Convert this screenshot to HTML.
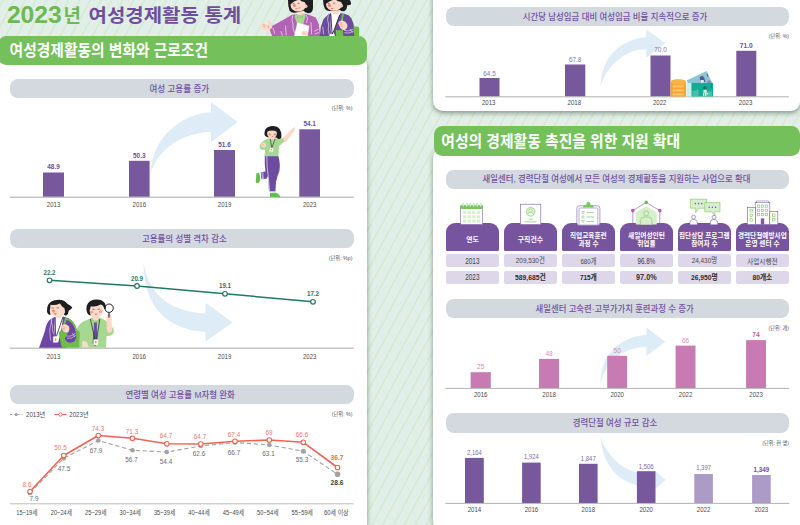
<!DOCTYPE html>
<html lang="ko"><head><meta charset="utf-8"><title>2023년 여성경제활동 통계</title>
<style>
html,body{margin:0;padding:0;background:#e2efe8}
body{font-family:"Liberation Sans","Noto Sans CJK KR",sans-serif}
#page{position:relative;width:800px;height:525px;overflow:hidden;background-color:#e2efe8;
}
#bgp{position:absolute;left:0;top:0;width:800px;height:525px}
#page div{position:absolute;box-sizing:border-box}
.card{background:#fff;box-shadow:0 2px 5px rgba(40,60,40,.5)}
.hdr{background:#74c05a;border-radius:8.5px}
.pill{background:#d3d9df;border-radius:8px}
.th{background:#76549e;border-radius:9px 9px 1.5px 1.5px}
.td{background:#ded7e9;border-radius:2px}
#art{position:absolute;left:0;top:0;width:800px;height:525px;font-family:"Liberation Sans","Noto Sans CJK KR",sans-serif}
#txt span{position:absolute;color:transparent;white-space:nowrap;line-height:1;overflow:hidden;
 font-family:"Liberation Sans","Noto Sans CJK KR",sans-serif}
</style></head><body>
<div id="page">
<svg id="bgp" width="800" height="525"><defs><pattern id="st" patternUnits="userSpaceOnUse" width="9.553" height="20" patternTransform="rotate(28.3)"><line x1="3.04" y1="-1" x2="3.04" y2="21" stroke="#c6e5ba" stroke-width=".75"/></pattern></defs><rect width="800" height="525" fill="url(#st)"/></svg>
<div class="card" style="left:-8.0px;top:55.0px;width:375.3px;height:485.0px;border-radius:0 10px 0 0"></div>
<div class="card" style="left:432.5px;top:-12.0px;width:367.9px;height:123.2px;border-radius:0 0 9px 10px"></div>
<div class="card" style="left:432.8px;top:148.0px;width:373.2px;height:383.0px;border-radius:10px"></div>
<div class="hdr" style="left:-2.0px;top:36.1px;width:368.9px;height:28.8px;"></div>
<div class="hdr" style="left:433.6px;top:126.4px;width:366.6px;height:29.2px;"></div>
<div class="pill" style="left:9.9px;top:78.8px;width:344.1px;height:19.2px;"></div>
<div class="pill" style="left:9.9px;top:229.2px;width:344.1px;height:19.2px;"></div>
<div class="pill" style="left:9.9px;top:384.7px;width:344.1px;height:19.3px;"></div>
<div class="pill" style="left:445.5px;top:7.0px;width:343.5px;height:19.0px;"></div>
<div class="pill" style="left:445.5px;top:169.5px;width:343.5px;height:19.0px;"></div>
<div class="th" style="left:445.5px;top:223.3px;width:53.7px;height:28.0px;"></div>
<div class="td" style="left:445.5px;top:254.1px;width:53.7px;height:13.3px;"></div>
<div class="td" style="left:445.5px;top:271.0px;width:53.7px;height:12.6px;"></div>
<div class="th" style="left:503.5px;top:223.3px;width:53.7px;height:28.0px;"></div>
<div class="td" style="left:503.5px;top:254.1px;width:53.7px;height:13.3px;"></div>
<div class="td" style="left:503.5px;top:271.0px;width:53.7px;height:12.6px;"></div>
<div class="th" style="left:561.5px;top:223.3px;width:53.7px;height:28.0px;"></div>
<div class="td" style="left:561.5px;top:254.1px;width:53.7px;height:13.3px;"></div>
<div class="td" style="left:561.5px;top:271.0px;width:53.7px;height:12.6px;"></div>
<div class="th" style="left:619.5px;top:223.3px;width:53.7px;height:28.0px;"></div>
<div class="td" style="left:619.5px;top:254.1px;width:53.7px;height:13.3px;"></div>
<div class="td" style="left:619.5px;top:271.0px;width:53.7px;height:12.6px;"></div>
<div class="th" style="left:677.5px;top:223.3px;width:53.7px;height:28.0px;"></div>
<div class="td" style="left:677.5px;top:254.1px;width:53.7px;height:13.3px;"></div>
<div class="td" style="left:677.5px;top:271.0px;width:53.7px;height:12.6px;"></div>
<div class="th" style="left:735.5px;top:223.3px;width:53.7px;height:28.0px;"></div>
<div class="td" style="left:735.5px;top:254.1px;width:53.7px;height:13.3px;"></div>
<div class="td" style="left:735.5px;top:271.0px;width:53.7px;height:12.6px;"></div>
<div class="pill" style="left:445.5px;top:299.0px;width:343.5px;height:19.0px;"></div>
<div class="pill" style="left:445.5px;top:413.1px;width:343.5px;height:19.5px;"></div>
<svg id="art" viewBox="0 0 800 525" width="800" height="525">
<g id="top-women"><clipPath id="cw"><rect x="255" y="0" width="110" height="36.1"/></clipPath><g clip-path="url(#cw)"><path fill="#b263b4" d="M292.6 14.6 L306.8 14 L315.8 17.4 L318.8 24 L320.2 36.5 L272.4 36.5 L270.6 32.5 L269.4 27.4 L282 20.5Z"/><path fill="#fcd9c8" d="M271.4 28.6 L267 31.2 L262.6 29.6 L260.6 25.4 L261.6 22.8 L263.6 23.2 L264.6 24.6 L268 24.4 L268.6 20 L270 20 L271 22.4 L271.2 25 L272.4 27Z"/><path stroke="#f2705c" stroke-width=".5" fill="none" d="M263 24.2l2.4 1.2M263 26.4l2.2.8M268.2 25.4l.6 3"/><rect x="297.4" y="9.5" width="5.6" height="6" fill="#fcd9c8"/><path fill="#a7d892" d="M295 14 L299.8 15.6 L304.6 13.2 L305.6 15.5 L303.4 24 L297 23.4 L294.8 17.5Z"/><path fill="#8fca78" d="M296.4 15.6 L299.8 17.2 L303.4 15.2 L302.6 18 L299.8 17.6 L297.4 18.6Z"/><path fill="#1e1e20" d="M288 -1 L313 -1 L313 8 Q312.6 13 308.8 13.3 Q305 13.2 303.6 10.8 L296 12.6 Q291.8 13.6 289.6 10.8 Q287.8 6.4 288 -1Z"/><ellipse cx="298.2" cy="4.9" rx="7.7" ry="6.7" fill="#fcd9c8"/><circle cx="305.7" cy="6.3" r="1.8" fill="#fcd9c8"/><path fill="#1e1e20" d="M290 -1 L307 -1 L306.6 3.6 Q304.4 1.4 301.4 1.2 L299.6 -.4 Q294.6 .4 290.6 4.2Z"/><circle cx="294.4" cy="5.4" r="1.5" fill="#f2705c" opacity=".85"/><circle cx="299.6" cy="7.8" r=".9" fill="#f2705c" opacity=".6"/><path d="M295 8.4q1.4 1.6 3 .2z" fill="#ec4b37"/><path d="M292.6 3.8l1.8-.4M297.6 3.4l2-.2" stroke="#1e1e20" stroke-width=".5"/><path d="M305 6.2h1.6" stroke="#f2705c" stroke-width=".5"/><path fill="#fff" stroke="#e6e6ee" stroke-width=".3" d="M297.4 22.5 L309.2 25.9 L307.4 37 L294 37Z"/><ellipse cx="304.6" cy="33.2" rx="3.3" ry="2.4" fill="#fcd9c8"/><path stroke="#f2705c" stroke-width=".4" fill="none" d="M303.4 33.4l2.2.8"/><path stroke="#fff" stroke-width=".6" fill="none" stroke-linecap="round" d="M292.6 16 Q291 20 293 24 Q292.4 29 294.6 33M306.6 15 Q308.6 19 306.6 22.6M311 22.6 L311.6 34M273.2 28.4l1.4 5M281 31.5l1.4 4M285.6 26l.6 9M314.6 31l3.4-1.6M315 34l3.6-1.4"/><path stroke="#6dbd4a" stroke-width="1.9" fill="none" d="M342.8 14.4 Q350.6 14.6 353.8 27.4"/><path fill="#6dbd4a" d="M335.8 36.5 L336.2 30.4 Q338 27.6 341 28 L343.6 30 L352 29 L353 26.6 L358.4 26.8 Q359.3 27.4 359.2 29 L359.2 36.5Z"/><path fill="#6c4ba1" d="M328.2 14.4 L332 13 L340.4 13 L343.4 13.8 L341.6 20 L343.6 30 L336 30.2 L336 36.5 L319.8 36.5 L320.8 27 L323.6 19Z"/><path fill="#fff" d="M331 12.8 L340.2 12.8 L333.6 32 L334.4 36.5 L331 36.5 L330.6 24Z"/><path stroke="#23202e" stroke-width=".85" fill="none" d="M330.8 13.4 L332 33.2M340.3 13.4 L333.2 32.6"/><rect x="331.6" y="32.6" width="1.4" height="1.6" fill="#23202e"/><rect x="329.9" y="34.1" width="4.6" height="2.4" fill="#fff" stroke="#cfcfd8" stroke-width=".3"/><path fill="#6c4ba1" d="M343.4 13.8 L349 15.6 Q352 18.6 353 23 L354.4 36.5 L343.4 36.5 L342.4 22Z"/><path stroke="#6dbd4a" stroke-width="1.7" fill="none" d="M343 14.2 L341.7 21"/><rect x="332.4" y="9.2" width="6.4" height="5.2" fill="#fcd9c8"/><path fill="#fff" d="M331.4 13 L335.6 15.4 L340.4 12.8 L340.2 14.6 L335.6 16.6 L331.6 14.8Z"/><path fill="#1e1e20" d="M323.2 -1 L349 -1 Q351.6 2 350.8 4.6 Q348.6 5.6 347.2 5 Q347.4 9 344.6 11 Q341.4 12 340 10 L330.6 11 Q327 11.6 325 9 Q322.8 5 323.2 -1Z"/><ellipse cx="334" cy="4.3" rx="8" ry="6.5" fill="#fcd9c8"/><circle cx="341.4" cy="5.7" r="1.7" fill="#fcd9c8"/><path fill="#1e1e20" d="M325.6 -1 L343 -1 L343 3.4 Q340.6 1.2 337.4 1 L335.6 -.6 Q330.6 0 326.2 3.8Z"/><circle cx="329.4" cy="5.6" r="1.5" fill="#f2705c" opacity=".85"/><path d="M330.4 7.9q1.6 1.8 3.4.1z" fill="#ec4b37"/><path d="M328 3.6l1.8-.3M333 3.2l2.2-.1" stroke="#1e1e20" stroke-width=".5"/><path d="M340.6 5.6h1.6" stroke="#f2705c" stroke-width=".5"/><path fill="#fcd9c8" d="M338.2 23.4 Q339 20.2 342.6 20.4 Q346.4 21.4 347.4 25 Q347.6 28.8 344.6 30 Q341.2 30 340 27.2Z"/><path stroke="#f2705c" stroke-width=".45" fill="none" d="M340 22.6l2.2.8M339.8 24.6l2.4.5M340.4 26.4l2 .2"/><path stroke="#fff" stroke-width=".55" fill="none" stroke-linecap="round" d="M328.2 15.6 Q326.6 20 328.6 24 Q327.6 30 329.4 36M344.6 30.6q4 1.4 8.2-1.2M344.8 32.8q4 1.4 8.6-1.4M350 29l2.4 3.2M322.8 27l.8 7"/></g></g>
<text x="6.9" y="22.8" font-size="23.5" font-weight="700" fill="#6cb955" textLength="54.9" lengthAdjust="spacingAndGlyphs">2023</text>
<text x="63.6" y="21.8" font-size="18" font-weight="700" fill="#6cb955" textLength="17.4" lengthAdjust="spacingAndGlyphs">년</text>
<text x="88.6" y="21.8" font-size="18.4" font-weight="700" fill="#6f4e9c" textLength="152.6" lengthAdjust="spacingAndGlyphs">여성경제활동 통계</text>
<text x="9.6" y="56.3" font-size="16.4" font-weight="700" fill="#fff" textLength="198.4" lengthAdjust="spacingAndGlyphs">여성경제활동의 변화와 근로조건</text>
<text x="441.3" y="147.2" font-size="16.4" font-weight="700" fill="#fff" textLength="238.8" lengthAdjust="spacingAndGlyphs">여성의 경제활동 촉진을 위한 지원 확대</text>
<text x="149.4" y="91.9" font-size="9.2" font-weight="500" fill="#74509f" textLength="59.8" lengthAdjust="spacingAndGlyphs">여성 고용률 증가</text>
<text x="331.8" y="110" font-size="5.6" fill="#555" textLength="20.6" lengthAdjust="spacingAndGlyphs">(단위: %)</text>
<path fill="#deecf7" d="M150.2 175.6 C151 158 158 141 170 130 C182 119 196 113 211 112.2 L211 102.2 L237.7 122.1 L211 142.2 L211 131.9 C197 132.5 184 136 173 143.5 C161 152 153 163 150.2 175.6Z"/>
<rect x="43.00" y="172.50" width="21.00" height="24.30" fill="#77589d"/>
<text transform="translate(53.50 168.79) scale(0.827 1)" font-size="7.79" fill="#6f4e9c" text-anchor="middle" font-weight="700">48.9</text>
<text transform="translate(53.50 207.42) scale(0.830 1)" font-size="7.32" fill="#4a4a4a" text-anchor="middle">2013</text>
<rect x="129.00" y="160.80" width="20.60" height="36.00" fill="#77589d"/>
<text transform="translate(139.30 157.79) scale(0.827 1)" font-size="7.79" fill="#6f4e9c" text-anchor="middle" font-weight="700">50.3</text>
<text transform="translate(139.30 207.42) scale(0.830 1)" font-size="7.32" fill="#4a4a4a" text-anchor="middle">2016</text>
<rect x="214.00" y="150.00" width="21.00" height="46.80" fill="#77589d"/>
<text transform="translate(224.50 146.79) scale(0.827 1)" font-size="7.79" fill="#6f4e9c" text-anchor="middle" font-weight="700">51.6</text>
<text transform="translate(224.50 207.42) scale(0.830 1)" font-size="7.32" fill="#4a4a4a" text-anchor="middle">2019</text>
<rect x="299.30" y="129.30" width="20.70" height="67.50" fill="#77589d"/>
<text transform="translate(309.65 125.79) scale(0.827 1)" font-size="7.79" fill="#6f4e9c" text-anchor="middle" font-weight="700">54.1</text>
<text transform="translate(309.65 207.42) scale(0.830 1)" font-size="7.32" fill="#4a4a4a" text-anchor="middle">2023</text>
<line x1="10.00" y1="197.20" x2="353.80" y2="197.20" stroke="#a8a8a8" stroke-width="1.00"/>
<text x="142" y="242.3" font-size="9.2" font-weight="500" fill="#74509f" textLength="84.8" lengthAdjust="spacingAndGlyphs">고용률의 성별 격차 감소</text>
<text x="328.8" y="259.7" font-size="5.6" fill="#555" textLength="23.6" lengthAdjust="spacingAndGlyphs">(단위: %p)</text>
<path fill="#deecf7" d="M143.4 261.9 C144 282 148 298 157.4 309.9 C168 323 185 331 205.5 331.7 L205.5 341.6 L232.6 322.4 L205.5 302.7 L205.5 313.3 C191 313 176 309 165 301 C153 292 146 278 143.4 261.9Z"/>
<polyline fill="none" stroke="#1d7a66" stroke-width="1.5" points="49.5,280.3 137.0,286.0 225.0,293.8 313.0,301.8"/>
<circle cx="49.5" cy="280.3" r="2.3" fill="#fff" stroke="#1d7a66" stroke-width="1.2"/>
<text transform="translate(49.50 274.70) scale(0.827 1)" font-size="7.55" fill="#1d7a66" text-anchor="middle" font-weight="700">22.2</text>
<circle cx="137.0" cy="286.0" r="2.3" fill="#fff" stroke="#1d7a66" stroke-width="1.2"/>
<text transform="translate(137.00 280.50) scale(0.827 1)" font-size="7.55" fill="#1d7a66" text-anchor="middle" font-weight="700">20.9</text>
<circle cx="225.0" cy="293.8" r="2.3" fill="#fff" stroke="#1d7a66" stroke-width="1.2"/>
<text transform="translate(225.00 288.20) scale(0.827 1)" font-size="7.55" fill="#1d7a66" text-anchor="middle" font-weight="700">19.1</text>
<circle cx="313.0" cy="301.8" r="2.3" fill="#fff" stroke="#1d7a66" stroke-width="1.2"/>
<text transform="translate(313.00 296.00) scale(0.827 1)" font-size="7.55" fill="#1d7a66" text-anchor="middle" font-weight="700">17.2</text>
<text transform="translate(53.50 358.92) scale(0.830 1)" font-size="7.32" fill="#4a4a4a" text-anchor="middle">2013</text>
<text transform="translate(139.20 358.92) scale(0.830 1)" font-size="7.32" fill="#4a4a4a" text-anchor="middle">2016</text>
<text transform="translate(224.50 358.92) scale(0.830 1)" font-size="7.32" fill="#4a4a4a" text-anchor="middle">2019</text>
<text transform="translate(309.70 358.92) scale(0.830 1)" font-size="7.32" fill="#4a4a4a" text-anchor="middle">2023</text>
<line x1="10.00" y1="348.20" x2="353.80" y2="348.20" stroke="#a8a8a8" stroke-width="1.00"/>
<text x="125.4" y="397.9" font-size="9.2" font-weight="500" fill="#74509f" textLength="109.4" lengthAdjust="spacingAndGlyphs">연령별 여성 고용률 M자형 완화</text>
<text x="331.8" y="415.8" font-size="5.6" fill="#555" textLength="20.6" lengthAdjust="spacingAndGlyphs">(단위: %)</text>
<line x1="10.00" y1="414.50" x2="22.50" y2="414.50" stroke="#a2a2a2" stroke-width="0.90" stroke-dasharray="2.2 1.6"/>
<circle cx="16.2" cy="414.5" r="1.5" fill="#a2a2a2"/>
<text x="26" y="417.1" font-size="6.8" fill="#4a4a4a" textLength="19.2" lengthAdjust="spacingAndGlyphs">2013년</text>
<line x1="54.50" y1="414.50" x2="66.50" y2="414.50" stroke="#ee6453" stroke-width="1.00"/>
<circle cx="60.5" cy="414.5" r="1.7" fill="#fff" stroke="#ee6453" stroke-width="0.9"/>
<text x="69.3" y="417.1" font-size="6.8" fill="#4a4a4a" textLength="19.2" lengthAdjust="spacingAndGlyphs">2023년</text>
<polyline fill="none" stroke="#a2a2a2" stroke-width="1.1" stroke-dasharray="4.2 2.8" points="30.0,493.0 63.8,458.3 98.3,440.5 132.5,450.3 166.8,452.0 200.8,446.0 235.0,442.5 269.3,445.0 303.3,451.3 337.5,474.3"/>
<circle cx="30.0" cy="493.0" r="2.3" fill="#a2a2a2"/>
<circle cx="63.8" cy="458.3" r="2.3" fill="#a2a2a2"/>
<circle cx="98.3" cy="440.5" r="2.3" fill="#a2a2a2"/>
<circle cx="132.5" cy="450.3" r="2.3" fill="#a2a2a2"/>
<circle cx="166.8" cy="452.0" r="2.3" fill="#a2a2a2"/>
<circle cx="200.8" cy="446.0" r="2.3" fill="#a2a2a2"/>
<circle cx="235.0" cy="442.5" r="2.3" fill="#a2a2a2"/>
<circle cx="269.3" cy="445.0" r="2.3" fill="#a2a2a2"/>
<circle cx="303.3" cy="451.3" r="2.5" fill="#a2a2a2"/>
<circle cx="337.5" cy="474.3" r="2.8" fill="#a2a2a2"/>
<polyline fill="none" stroke="#ee6453" stroke-width="1.6" stroke-linejoin="round" points="30.0,491.5 63.8,455.5 98.3,435.5 132.5,438.3 166.8,443.8 200.8,444.0 235.0,441.3 269.3,440.0 303.3,442.3 337.5,467.5"/>
<circle cx="30.0" cy="491.5" r="2.3" fill="#fff" stroke="#ee6453" stroke-width="1.1"/>
<circle cx="63.8" cy="455.5" r="2.3" fill="#fff" stroke="#ee6453" stroke-width="1.1"/>
<circle cx="98.3" cy="435.5" r="2.3" fill="#fff" stroke="#ee6453" stroke-width="1.1"/>
<circle cx="132.5" cy="438.3" r="2.3" fill="#fff" stroke="#ee6453" stroke-width="1.1"/>
<circle cx="166.8" cy="443.8" r="2.3" fill="#fff" stroke="#ee6453" stroke-width="1.1"/>
<circle cx="200.8" cy="444.0" r="2.3" fill="#fff" stroke="#ee6453" stroke-width="1.1"/>
<circle cx="235.0" cy="441.3" r="2.3" fill="#fff" stroke="#ee6453" stroke-width="1.1"/>
<circle cx="269.3" cy="440.0" r="2.3" fill="#fff" stroke="#ee6453" stroke-width="1.1"/>
<circle cx="303.3" cy="442.3" r="2.3" fill="#fff" stroke="#ee6453" stroke-width="1.1"/>
<circle cx="337.5" cy="467.5" r="2.3" fill="#fff" stroke="#ee6453" stroke-width="1.1"/>
<text transform="translate(27.00 487.25) scale(0.830 1)" font-size="7.67" fill="#f0796b" text-anchor="middle">8.6</text>
<text transform="translate(60.50 450.25) scale(0.830 1)" font-size="7.67" fill="#f0796b" text-anchor="middle">50.5</text>
<text transform="translate(98.00 430.75) scale(0.830 1)" font-size="7.67" fill="#f0796b" text-anchor="middle">74.3</text>
<text transform="translate(132.00 433.75) scale(0.830 1)" font-size="7.67" fill="#f0796b" text-anchor="middle">71.3</text>
<text transform="translate(166.00 438.25) scale(0.830 1)" font-size="7.67" fill="#f0796b" text-anchor="middle">64.7</text>
<text transform="translate(200.00 439.05) scale(0.830 1)" font-size="7.67" fill="#f0796b" text-anchor="middle">64.7</text>
<text transform="translate(234.00 437.05) scale(0.830 1)" font-size="7.67" fill="#f0796b" text-anchor="middle">67.4</text>
<text transform="translate(269.00 435.25) scale(0.830 1)" font-size="7.67" fill="#f0796b" text-anchor="middle">69</text>
<text transform="translate(302.00 437.05) scale(0.830 1)" font-size="7.67" fill="#f0796b" text-anchor="middle">66.6</text>
<text transform="translate(337.00 459.87) scale(0.827 1)" font-size="8.02" fill="#ee6453" text-anchor="middle" font-weight="700">36.7</text>
<text transform="translate(34.00 500.75) scale(0.830 1)" font-size="7.67" fill="#6a6a6a" text-anchor="middle">7.9</text>
<text transform="translate(64.00 470.75) scale(0.830 1)" font-size="7.67" fill="#6a6a6a" text-anchor="middle">47.5</text>
<text transform="translate(96.00 452.75) scale(0.830 1)" font-size="7.67" fill="#6a6a6a" text-anchor="middle">67.9</text>
<text transform="translate(131.50 462.25) scale(0.830 1)" font-size="7.67" fill="#6a6a6a" text-anchor="middle">56.7</text>
<text transform="translate(166.00 463.55) scale(0.830 1)" font-size="7.67" fill="#6a6a6a" text-anchor="middle">54.4</text>
<text transform="translate(199.00 456.05) scale(0.830 1)" font-size="7.67" fill="#6a6a6a" text-anchor="middle">62.6</text>
<text transform="translate(234.00 454.55) scale(0.830 1)" font-size="7.67" fill="#6a6a6a" text-anchor="middle">66.7</text>
<text transform="translate(268.50 455.55) scale(0.830 1)" font-size="7.67" fill="#6a6a6a" text-anchor="middle">63.1</text>
<text transform="translate(302.00 462.25) scale(0.830 1)" font-size="7.67" fill="#6a6a6a" text-anchor="middle">55.3</text>
<text transform="translate(337.00 485.37) scale(0.827 1)" font-size="8.02" fill="#3c3c3c" text-anchor="middle" font-weight="700">28.6</text>
<line x1="10.00" y1="503.80" x2="353.60" y2="503.80" stroke="#a8a8a8" stroke-width="0.80"/>
<text x="16.2" y="515.3" font-size="6.6" fill="#4a4a4a" textLength="21.4" lengthAdjust="spacingAndGlyphs">15~19세</text>
<text x="50.7" y="515.3" font-size="6.6" fill="#4a4a4a" textLength="21.4" lengthAdjust="spacingAndGlyphs">20~24세</text>
<text x="85.1" y="515.3" font-size="6.6" fill="#4a4a4a" textLength="21.4" lengthAdjust="spacingAndGlyphs">25~29세</text>
<text x="119.5" y="515.3" font-size="6.6" fill="#4a4a4a" textLength="21.4" lengthAdjust="spacingAndGlyphs">30~34세</text>
<text x="153.9" y="515.3" font-size="6.6" fill="#4a4a4a" textLength="21.4" lengthAdjust="spacingAndGlyphs">35~39세</text>
<text x="188.3" y="515.3" font-size="6.6" fill="#4a4a4a" textLength="21.4" lengthAdjust="spacingAndGlyphs">40~44세</text>
<text x="222.7" y="515.3" font-size="6.6" fill="#4a4a4a" textLength="21.4" lengthAdjust="spacingAndGlyphs">45~49세</text>
<text x="257.1" y="515.3" font-size="6.6" fill="#4a4a4a" textLength="21.4" lengthAdjust="spacingAndGlyphs">50~54세</text>
<text x="291.5" y="515.3" font-size="6.6" fill="#4a4a4a" textLength="21.4" lengthAdjust="spacingAndGlyphs">55~59세</text>
<text x="323.9" y="515.3" font-size="6.6" fill="#4a4a4a" textLength="24.7" lengthAdjust="spacingAndGlyphs">60세 이상</text>
<text x="522.7" y="19.95" font-size="9.2" font-weight="500" fill="#74509f" textLength="184.6" lengthAdjust="spacingAndGlyphs">시간당 남성임금 대비 여성임금 비율 지속적으로 증가</text>
<text x="768.8" y="37.96" font-size="5.6" fill="#555" textLength="20.1" lengthAdjust="spacingAndGlyphs">(단위: %)</text>
<path fill="#deecf7" d="M600.5 86.9 C600.8 72 606 57 618 48 C627 41 637 37.6 646.3 37.2 L646.3 29.4 L665.2 43.2 L646.3 58 L646.3 49.2 C637 49.4 628 52 620.5 58 C610 66 603 76 600.5 86.9Z"/>
<rect x="479.50" y="78.00" width="20.00" height="18.40" fill="#77589d"/>
<text transform="translate(489.50 75.55) scale(0.830 1)" font-size="7.67" fill="#8a70b3" text-anchor="middle">64.5</text>
<text transform="translate(488.70 105.42) scale(0.830 1)" font-size="7.32" fill="#4a4a4a" text-anchor="middle">2013</text>
<rect x="565.00" y="64.50" width="20.30" height="31.90" fill="#77589d"/>
<text transform="translate(575.15 62.05) scale(0.830 1)" font-size="7.67" fill="#8a70b3" text-anchor="middle">67.8</text>
<text transform="translate(574.35 105.42) scale(0.830 1)" font-size="7.32" fill="#4a4a4a" text-anchor="middle">2018</text>
<rect x="650.50" y="55.50" width="20.00" height="40.90" fill="#77589d"/>
<text transform="translate(660.50 52.05) scale(0.830 1)" font-size="7.67" fill="#8a70b3" text-anchor="middle">70.0</text>
<text transform="translate(659.70 105.42) scale(0.830 1)" font-size="7.32" fill="#4a4a4a" text-anchor="middle">2022</text>
<rect x="736.30" y="50.80" width="20.00" height="45.60" fill="#77589d"/>
<text transform="translate(746.30 48.37) scale(0.827 1)" font-size="8.02" fill="#6f4e9c" text-anchor="middle" font-weight="700">71.0</text>
<text transform="translate(745.50 105.42) scale(0.830 1)" font-size="7.32" fill="#4a4a4a" text-anchor="middle">2023</text>
<line x1="445.50" y1="96.80" x2="789.00" y2="96.80" stroke="#a8a8a8" stroke-width="0.90"/>
<text x="482.5" y="182.13" font-size="9.2" font-weight="500" fill="#74509f" textLength="268" lengthAdjust="spacingAndGlyphs">새일센터, 경력단절 여성에서 모든 여성의 경제활동을 지원하는 사업으로 확대</text>
<text x="466.2" y="242.05" font-size="7.2" font-weight="700" fill="#fff" textLength="12.4" lengthAdjust="spacingAndGlyphs">연도</text>
<text transform="translate(472.35 263.88) scale(0.747 1)" font-size="8.61" fill="#444" text-anchor="middle">2013</text>
<text transform="translate(472.35 280.48) scale(0.747 1)" font-size="8.61" fill="#444" text-anchor="middle">2023</text>
<text x="517.8" y="241.95" font-size="7.2" font-weight="700" fill="#fff" textLength="25.3" lengthAdjust="spacingAndGlyphs">구직건수</text>
<text x="515.8" y="263.23" font-size="8" fill="#444" textLength="29" lengthAdjust="spacingAndGlyphs">209,530건</text>
<text x="515" y="280" font-size="8" font-weight="700" fill="#2c2c2c" textLength="30.7" lengthAdjust="spacingAndGlyphs">589,685건</text>
<text x="570" y="237.77" font-size="7.2" font-weight="700" fill="#fff" textLength="36.7" lengthAdjust="spacingAndGlyphs">직업교육훈련</text>
<text x="578.4" y="246.16" font-size="7.2" font-weight="700" fill="#fff" textLength="20.1" lengthAdjust="spacingAndGlyphs">과정 수</text>
<text x="580.4" y="263.53" font-size="8" fill="#444" textLength="16" lengthAdjust="spacingAndGlyphs">680개</text>
<text x="579.9" y="280.27" font-size="8" font-weight="700" fill="#2c2c2c" textLength="16.8" lengthAdjust="spacingAndGlyphs">715개</text>
<text x="628" y="237.76" font-size="7.2" font-weight="700" fill="#fff" textLength="36.9" lengthAdjust="spacingAndGlyphs">새일여성인턴</text>
<text x="637.2" y="246.16" font-size="7.2" font-weight="700" fill="#fff" textLength="18.3" lengthAdjust="spacingAndGlyphs">취업률</text>
<text transform="translate(646.35 263.80) scale(0.747 1)" font-size="8.38" fill="#333" text-anchor="middle">96.8%</text>
<text transform="translate(646.35 280.40) scale(0.870 1)" font-size="8.38" fill="#333" text-anchor="middle" font-weight="700">97.0%</text>
<text x="679" y="237.76" font-size="7.2" font-weight="700" fill="#fff" textLength="50.7" lengthAdjust="spacingAndGlyphs">집단상담 프로그램</text>
<text x="691.2" y="246.16" font-size="7.2" font-weight="700" fill="#fff" textLength="26.4" lengthAdjust="spacingAndGlyphs">참여자 수</text>
<text x="691.7" y="263.23" font-size="8" fill="#444" textLength="25.4" lengthAdjust="spacingAndGlyphs">24,430명</text>
<text x="690.9" y="280" font-size="8" font-weight="700" fill="#2c2c2c" textLength="26.9" lengthAdjust="spacingAndGlyphs">26,950명</text>
<text x="737.9" y="237.74" font-size="7.2" font-weight="700" fill="#fff" textLength="48.9" lengthAdjust="spacingAndGlyphs">경력단절예방사업</text>
<text x="745.3" y="246.16" font-size="7.2" font-weight="700" fill="#fff" textLength="34.2" lengthAdjust="spacingAndGlyphs">운영 센터 수</text>
<text x="747.3" y="263.52" font-size="7.3" fill="#444" textLength="30.2" lengthAdjust="spacingAndGlyphs">사업시행전</text>
<text x="752.4" y="280.27" font-size="7.8" font-weight="700" fill="#2c2c2c" textLength="19.9" lengthAdjust="spacingAndGlyphs">80개소</text>
<text x="535.6" y="311.95" font-size="9.2" font-weight="500" fill="#74509f" textLength="158" lengthAdjust="spacingAndGlyphs">새일센터 고숙련·고부가가치 훈련과정 수 증가</text>
<text x="768.5" y="329.96" font-size="5.6" fill="#555" textLength="20.4" lengthAdjust="spacingAndGlyphs">(단위: 개)</text>
<path fill="#deecf7" d="M600.5 383.8 C600.6 371 604 357 615 347.5 C624 339.5 635 335.5 646.3 334.9 L646.3 327.2 L665.2 341.7 L646.3 356.3 L646.3 346.9 C637 347 627 349.5 619 355.5 C609 363 603 373 600.5 383.8Z"/>
<rect x="470.60" y="372.20" width="20.20" height="15.80" fill="#c87bb3"/>
<text transform="translate(480.70 369.49) scale(0.830 1)" font-size="7.79" fill="#d38bc0" text-anchor="middle">25</text>
<text transform="translate(480.70 397.22) scale(0.830 1)" font-size="7.32" fill="#4a4a4a" text-anchor="middle">2016</text>
<rect x="539.00" y="358.90" width="20.00" height="29.10" fill="#c87bb3"/>
<text transform="translate(549.00 356.19) scale(0.830 1)" font-size="7.79" fill="#d38bc0" text-anchor="middle">48</text>
<text transform="translate(549.00 397.22) scale(0.830 1)" font-size="7.32" fill="#4a4a4a" text-anchor="middle">2018</text>
<rect x="607.20" y="355.80" width="19.90" height="32.20" fill="#c87bb3"/>
<text transform="translate(617.15 352.69) scale(0.830 1)" font-size="7.79" fill="#d38bc0" text-anchor="middle">50</text>
<text transform="translate(617.15 397.22) scale(0.830 1)" font-size="7.32" fill="#4a4a4a" text-anchor="middle">2020</text>
<rect x="675.60" y="345.60" width="19.90" height="42.40" fill="#c87bb3"/>
<text transform="translate(685.55 342.69) scale(0.830 1)" font-size="7.79" fill="#d38bc0" text-anchor="middle">66</text>
<text transform="translate(685.55 397.22) scale(0.830 1)" font-size="7.32" fill="#4a4a4a" text-anchor="middle">2022</text>
<rect x="746.10" y="340.10" width="19.90" height="47.90" fill="#c87bb3"/>
<text transform="translate(756.05 337.07) scale(0.827 1)" font-size="8.02" fill="#b65aa0" text-anchor="middle" font-weight="700">74</text>
<text transform="translate(756.05 397.22) scale(0.830 1)" font-size="7.32" fill="#4a4a4a" text-anchor="middle">2023</text>
<line x1="445.50" y1="388.40" x2="789.30" y2="388.40" stroke="#a8a8a8" stroke-width="0.90"/>
<text x="572.7" y="426.29" font-size="9.2" font-weight="500" fill="#74509f" textLength="84.5" lengthAdjust="spacingAndGlyphs">경력단절 여성 규모 감소</text>
<text x="762.2" y="444.86" font-size="5.6" fill="#555" textLength="26.7" lengthAdjust="spacingAndGlyphs">(단위: 천 명)</text>
<path fill="#deecf7" d="M600.5 436.3 C601.5 452 607 466 617 475 C626 483 637 486.5 648 486.3 L655.3 486.3 L655.3 489 L665.6 480 L655.3 470.8 L655.3 473.6 L648 473.6 C636 473.6 624 469 615 460 C608 453 603 445 600.5 436.3Z"/>
<rect x="465.00" y="457.90" width="18.80" height="45.10" fill="#77589d"/>
<text transform="translate(474.40 454.60) scale(0.788 1)" font-size="7.55" fill="#8468ad" text-anchor="middle">2,164</text>
<text transform="translate(474.40 512.22) scale(0.830 1)" font-size="7.32" fill="#4a4a4a" text-anchor="middle">2014</text>
<rect x="522.10" y="462.60" width="18.60" height="40.40" fill="#77589d"/>
<text transform="translate(531.40 459.40) scale(0.788 1)" font-size="7.55" fill="#8468ad" text-anchor="middle">1,924</text>
<text transform="translate(531.40 512.22) scale(0.830 1)" font-size="7.32" fill="#4a4a4a" text-anchor="middle">2016</text>
<rect x="579.00" y="463.80" width="18.60" height="39.20" fill="#77589d"/>
<text transform="translate(588.30 461.00) scale(0.788 1)" font-size="7.55" fill="#8468ad" text-anchor="middle">1,847</text>
<text transform="translate(588.30 512.22) scale(0.830 1)" font-size="7.32" fill="#4a4a4a" text-anchor="middle">2018</text>
<rect x="636.90" y="471.20" width="18.60" height="31.80" fill="#77589d"/>
<text transform="translate(646.20 468.70) scale(0.788 1)" font-size="7.55" fill="#8468ad" text-anchor="middle">1,506</text>
<text transform="translate(646.20 512.22) scale(0.830 1)" font-size="7.32" fill="#4a4a4a" text-anchor="middle">2020</text>
<rect x="694.30" y="474.00" width="18.60" height="29.00" fill="#ab9bc6"/>
<text transform="translate(703.60 470.10) scale(0.788 1)" font-size="7.55" fill="#8468ad" text-anchor="middle">1,397</text>
<text transform="translate(703.60 512.22) scale(0.830 1)" font-size="7.32" fill="#4a4a4a" text-anchor="middle">2022</text>
<rect x="752.10" y="475.00" width="18.60" height="28.00" fill="#ab9bc6"/>
<text transform="translate(761.40 471.79) scale(0.800 1)" font-size="7.79" fill="#6f4e9c" text-anchor="middle" font-weight="700">1,349</text>
<text transform="translate(761.40 512.22) scale(0.830 1)" font-size="7.32" fill="#4a4a4a" text-anchor="middle">2023</text>
<line x1="445.50" y1="503.40" x2="789.30" y2="503.40" stroke="#a8a8a8" stroke-width="0.90"/>
<g id="girl"><path fill="#fcd9c8" d="M281 141 L283.2 137.6 L292.4 128.6 L294.7 126.9 L295 127.6 L294.2 129.8 L295 131 L293.4 132 L285.6 142.4Z"/><path fill="#6c4ba1" d="M264.8 155.6 L278.2 155.6 Q280.6 164 279.4 171 Q277.2 176 276 182 L275.4 191.8 L269 191.8 L268 176 L266.8 178.6 L261.2 179.6 L260.6 172.6 L265.4 171.4 Q264.4 163 264.8 155.6Z"/><path stroke="#fff" stroke-width=".6" fill="none" d="M266.8 156 Q266.8 168 268.2 176 L269.6 191.5M261.8 172.6l.8 6.8"/><path stroke="#e9e2f3" stroke-width=".5" fill="none" d="M262.8 172.3l.8 6.9"/><path fill="#62bf4d" d="M256.2 173.4 L259.4 172.8 L260.6 179.6 L258.4 183.2 Q256.4 183.8 255.7 181.8 Q256.4 177 256.2 173.4Z"/><path fill="#62bf4d" d="M270.2 192.6 L275.6 192.4 Q279.6 194 280.4 196.9 L270.4 196.9 Q269.6 194.6 270.2 192.6Z"/><path fill="#fff" d="M260.2 172.4l1.4 7.4-1 .3-1.2-7.5zM269.2 191.6h6.2v1h-6.2z"/><path fill="#a7d892" d="M268.2 138.4 L277.4 138.2 L283.4 138.6 L284.4 141.6 L279 146.2 L278.4 156.2 L264.6 156.2 L265 149.6 Q261 151 259.6 147.6 Q259.4 144.4 262.4 141.8 Q265 139.2 268.2 138.4Z"/><ellipse cx="263.6" cy="145" rx="2.4" ry="2.6" fill="#fcd9c8"/><path stroke="#f2705c" stroke-width=".4" fill="none" d="M262.4 144l1.6.8"/><rect x="270.8" y="136.4" width="3.6" height="3.2" fill="#fcd9c8"/><path fill="#1e1e20" d="M264.4 134.2 Q264 127.6 270.4 126.2 Q276.6 125.2 279.8 129.2 Q282.4 133.4 281.4 137.6 Q280.6 139.4 278.4 139 L276.2 137.6 L267.4 137.2 Q264.8 137 264.4 134.2Z"/><ellipse cx="272" cy="133.6" rx="4.9" ry="4.7" fill="#fcd9c8"/><path fill="#1e1e20" d="M266.6 132.6 Q267.4 128.6 271.6 128.4 Q276.4 128.6 277.6 132.8 L276.6 131.6 Q272 129.6 267.2 131.6Z"/><circle cx="269.6" cy="134.4" r="1.1" fill="#f2705c" opacity=".8"/><circle cx="275" cy="134.4" r="1.1" fill="#f2705c" opacity=".8"/><path d="M271.6 136.2q.8.7 1.6 0" stroke="#e8452f" stroke-width=".7" fill="none"/><path stroke="#2b2b33" stroke-width=".65" fill="none" d="M270.4 139 L271.6 147.6M275 139 L272 147.6"/><path fill="#fff" stroke="#d0d0d0" stroke-width=".25" d="M270 147.6 L273.6 148.4 L272.8 152 L269.2 151.2Z"/><circle cx="271.4" cy="149.8" r=".8" fill="#f39a2e"/></g>
<g id="pair"><clipPath id="cp"><rect x="30" y="295" width="95" height="52.8"/></clipPath><g clip-path="url(#cp)"><path fill="#a7d892" d="M76 332 Q78 322 88 319.4 L91.4 317.8 L99.6 317.6 L105 320 Q108.6 322.6 109.4 328 L113.2 327.6 Q114.4 331 113.4 333.6 Q110.8 336.6 106.6 336 L106 348 L80 348 L79.6 338 L76.6 340Z"/><path fill="#fcd9c8" d="M106.4 315.6 Q108.6 313.2 111 315.2 Q112.4 318 111.4 321 L112.4 329 Q112 332.6 109.2 332.8 Q106.8 332.4 106.8 329.6 L106.6 321Z"/><line x1="109" y1="312.6" x2="109" y2="317.6" stroke="#1e1e20" stroke-width="1.1"/><circle cx="109.1" cy="308.2" r="4.2" fill="#fff" stroke="#1e1e20" stroke-width="1"/><rect x="93" y="315" width="5.6" height="5.4" fill="#fcd9c8"/><path fill="#8ecb77" d="M92.8 319.2 L95.8 322.6 L98.8 319 L99.4 320.4 L96 323.6 L92.2 320.6Z"/><ellipse cx="95.6" cy="310.6" rx="7.6" ry="7.4" fill="#fcd9c8"/><path fill="#1e1e20" d="M86.4 309.4 Q86 301.8 93.6 299.8 Q100.8 298.4 104.6 302.8 Q106.8 306 105.6 309.6 L104 308.4 Q103.4 305 100.6 304.6 Q96 307.2 90.8 306.2 L89.6 310.6 L90.6 315.6 Q87 314.6 86.4 309.4Z"/><circle cx="91.6" cy="312" r="1.5" fill="#f39a94" opacity=".9"/><circle cx="100.6" cy="311.6" r="1.5" fill="#f39a94" opacity=".9"/><path d="M94.6 314q1.4 1 2.8-.1" stroke="#7a3b33" stroke-width=".5" fill="none"/><path d="M92.4 309.4h2.2M97.6 309.2h2.2" stroke="#1e1e20" stroke-width=".55"/><path fill="#6c4ba1" d="M93.8 322.8 L97.2 322.6 L96.8 325 L97.4 343 L95 346.6 L92.6 343 L94 325Z"/><path stroke="#2b2b33" stroke-width=".75" fill="none" d="M90.4 319 L95 340M99.8 319 L96.6 340"/><rect x="93.6" y="339.4" width="4.4" height="5.6" rx=".5" fill="#fff" stroke="#d6d6d6" stroke-width=".3"/><rect x="95" y="341" width="1.6" height="2.2" fill="#f39a2e"/><path fill="#fcd9c8" d="M82 341.4 Q85 340.4 87.2 342.6 L88.6 347.5 L82.4 347.5Z"/><path fill="#6f45a3" d="M51.4 318.4 L56 316.8 L63 316.6 L68.6 318.2 Q73.4 321 75 328 L76 337 Q76 341.6 71 342.4 L66.6 341 L66 348 L39 348 L44.6 332 Q46.4 321.6 51.4 318.4Z"/><path fill="#fff" d="M55 316.4 L63.2 316.2 L61.6 328 L58.4 342 L55.4 342 L54.4 328Z"/><rect x="56" y="313" width="5.2" height="5" fill="#fcd9c8"/><ellipse cx="57.6" cy="309.6" rx="7.8" ry="7.2" fill="#fcd9c8"/><path fill="#1e1e20" d="M47 311.4 Q46 302.6 54.6 300.2 Q63.6 298.4 67.6 304 Q70.4 305.4 72.4 307.6 Q70.6 310 68.8 310.4 Q68.6 314 66 315.8 L63.8 314.8 Q65.8 311.6 64.6 308.6 Q61.6 306.8 60 303.6 Q55 305.8 50.6 304.8 L49.8 310.8 L50.6 315 Q47.6 314.6 47 311.4Z"/><circle cx="53.4" cy="311" r="1.5" fill="#f2705c" opacity=".8"/><path d="M54 313.6q1.2.9 2.4 0" stroke="#e8452f" stroke-width=".9" fill="none"/><path d="M51.6 308h2M56.6 307.8h2.2" stroke="#1e1e20" stroke-width=".5"/><path stroke="#2b2b33" stroke-width=".8" fill="none" d="M55.2 317 L55.6 336.5M63 316.8 L56.4 336.5"/><rect x="53.2" y="336.6" width="4.6" height="6" rx=".5" fill="#fff" stroke="#d6d6d6" stroke-width=".3"/><rect x="54.8" y="338.4" width="1.5" height="2.4" fill="#f39a2e"/><path fill="#6dbd4a" d="M58.8 333.6 Q59 330.6 61.6 330.4 L66 331 L76.4 330.4 L79 331.2 Q79.8 332 79.7 334 L79.7 348 L61.8 348Z"/><path fill="#6f45a3" d="M65.6 318 Q72 318.4 75 326 L76.3 337 Q75.8 342.6 70 342.7 Q65.8 342.2 64.8 338.6 L68.8 331.6 L70.4 326Z"/><path stroke="#6dbd4a" stroke-width="1.9" fill="none" stroke-linecap="round" d="M63.6 326.6 L65.8 318.8 Q73.6 319.6 76.6 331.2"/><path stroke="#fff" stroke-width=".5" fill="none" stroke-linecap="round" d="M66.6 336.2q4 1.2 8.6-2.6M67.4 338.4q4 1 8.2-2.8M72.6 333.4l2 3.4M52 319.6 L49.6 330 L50.6 340M51.6 318.6q-1.4 4 1 7q-1 4 1 8"/><path fill="#fcd9c8" d="M61.6 327 Q62 324 65.2 324.2 Q68.6 324.8 69.4 328 Q69.6 331.6 66.8 332.6 Q63.6 332.6 62.4 330.2Z"/><path stroke="#f2705c" stroke-width=".45" fill="none" d="M62.6 326.4l2.2.8M62.4 328.2l2.4.5M63 330l2 .2"/></g></g>
<g id="money"><path fill="#8fc4d6" d="M686.6 80.6 L706.6 71 L712.4 83.5 L712.4 90 L691 90Z"/><path fill="#4c3f7a" d="M699.6 77.4q2-2.6 4.4-.4l1.4 4.6-4.6 1.6zM707.4 73.4l1 3-.9.4-1-3z" opacity=".8"/><rect x="700.6" y="80" width="3.2" height="3" fill="#dfeef2"/><path fill="#8f86b3" d="M707.6 81q1.6-1.6 3 0l.6 2h-4z"/><rect x="686.4" y="82.9" width="5.2" height="13.5" fill="#cfeee8"/><rect x="691.5" y="82.9" width="21.6" height="13.5" fill="#12ad95"/><path fill="#4fc4b0" d="M692.5 96.4v-5l2-1.6 1.4 1.2 1.2-2 1.6 1.8v5.6zM707.6 96.4v-4.6l1.6-1.4 1.4 1.4 1.4-1v5.6z" opacity=".8"/><path fill="#0d7e70" d="M703.2 87.2q1.6-2.6 3.2 0l.6 2.4h-4.4z"/><rect x="703.4" y="89.8" width="3.4" height="3" fill="#e6e9c4"/><path fill="#fff" d="M706.6 92.6l2 1.2-2 1.2z"/><rect x="703" y="93" width="1.3" height="3" fill="#e9f6f2"/><rect x="705" y="93" width="1.3" height="3" fill="#e9f6f2"/><rect x="710.8" y="84.4" width=".9" height="3.6" fill="#0d8a79"/><path fill="#f6a42c" d="M670.6 82 A7.7 2.7 0 0 1 686 82 L686 96.4 L670.6 96.4Z"/><ellipse cx="678.3" cy="82" rx="7.7" ry="2.6" fill="#f9b544"/><rect x="672.6" y="85.2" width="11.2" height="2.3" rx=".6" fill="#fac368"/><rect x="672.6" y="89.2" width="11.2" height="2.3" rx=".6" fill="#fac368"/><rect x="672.6" y="93.2" width="11.2" height="2.3" rx=".6" fill="#fac368"/></g>
<g id="icons" fill="none" stroke-width=".6"><rect x="460.6" y="206.6" width="22" height="18" fill="#fff" stroke="#7d5aa6"/><rect x="460.3" y="205.2" width="22.6" height="3.8" fill="#7cc463" stroke="none"/><rect x="462.4" y="203.6" width="1.5" height="3.2" rx=".7" fill="#fff" stroke="#7cc463" stroke-width=".5"/><rect x="465.9" y="203.6" width="1.5" height="3.2" rx=".7" fill="#fff" stroke="#7cc463" stroke-width=".5"/><rect x="469.4" y="203.6" width="1.5" height="3.2" rx=".7" fill="#fff" stroke="#7cc463" stroke-width=".5"/><rect x="472.9" y="203.6" width="1.5" height="3.2" rx=".7" fill="#fff" stroke="#7cc463" stroke-width=".5"/><rect x="476.4" y="203.6" width="1.5" height="3.2" rx=".7" fill="#fff" stroke="#7cc463" stroke-width=".5"/><rect x="479.9" y="203.6" width="1.5" height="3.2" rx=".7" fill="#fff" stroke="#7cc463" stroke-width=".5"/><rect x="462.8" y="211.0" width="3.3" height="3" fill="#d7efcc" stroke="none"/><rect x="467.5" y="211.0" width="3.3" height="3" fill="#d7efcc" stroke="none"/><rect x="472.2" y="211.0" width="3.3" height="3" fill="#d7efcc" stroke="none"/><rect x="476.9" y="211.0" width="3.3" height="3" fill="#d7efcc" stroke="none"/><rect x="462.8" y="215.3" width="3.3" height="3" fill="#d7efcc" stroke="none"/><rect x="467.5" y="215.3" width="3.3" height="3" fill="#d7efcc" stroke="none"/><rect x="472.2" y="215.3" width="3.3" height="3" fill="#d7efcc" stroke="none"/><rect x="476.9" y="215.3" width="3.3" height="3" fill="#d7efcc" stroke="none"/><rect x="462.8" y="219.6" width="3.3" height="3" fill="#d7efcc" stroke="none"/><rect x="467.5" y="219.6" width="3.3" height="3" fill="#d7efcc" stroke="none"/><rect x="472.2" y="219.6" width="3.3" height="3" fill="#d7efcc" stroke="none"/><rect x="476.9" y="219.6" width="3.3" height="3" fill="#d7efcc" stroke="none"/><rect x="520.4" y="204.2" width="20.4" height="20.4" fill="#fff" stroke="#7d5aa6"/><circle cx="530.6" cy="211.8" r="4.4" fill="#d7efcc" stroke="#7cc463"/><circle cx="530.6" cy="210.4" r="1.6" fill="#fff" stroke="#7cc463" stroke-width=".5"/><path d="M527.6 215q.6-2.6 3-2.6t3 2.6" fill="#fff" stroke="#7cc463" stroke-width=".5"/><path d="M528.4 219.2h4.4M524.6 221.8h12" stroke="#7cc463" stroke-width=".7"/><rect x="576.9" y="205.8" width="23" height="19.6" rx="2.6" fill="#fff" stroke="#7d5aa6"/><rect x="579" y="208" width="18.8" height="17" rx=".8" fill="#fff" stroke="#7d5aa6" stroke-width=".5"/><path d="M583 207.4q0-2.4 3.2-2.6q.4-3 2.2-3t2.2 3q3.2.2 3.2 2.6z" fill="#7cc463" stroke="none"/><rect x="582" y="211.4" width="2" height="2" stroke="#7cc463" stroke-width=".5"/><path d="M586.4 212.4h7.6" stroke="#7cc463" stroke-width=".7"/><rect x="582" y="216.0" width="2" height="2" stroke="#7cc463" stroke-width=".5"/><path d="M586.4 217.0h7.6" stroke="#7cc463" stroke-width=".7"/><rect x="582" y="220.6" width="2" height="2" stroke="#7cc463" stroke-width=".5"/><path d="M586.4 221.6h7.6" stroke="#7cc463" stroke-width=".7"/><path d="M632.8 210.6 L646.2 202.4 L659.8 210.6M632.8 210.6V224.4M659.8 210.6V224.4" stroke="#7d5aa6"/><path d="M635.8 224.4V212.4L646.2 206.2L656.8 212.4V224.4Z" fill="#d7efcc" stroke="none"/><circle cx="646.2" cy="213.4" r="2.5" fill="#d7efcc" stroke="#7cc463"/><path d="M640.4 224.4v-3.6q0-3.6 3.6-3.8h4.4q3.6.2 3.6 3.8v3.6" fill="#d7efcc" stroke="#7cc463"/><circle cx="632.8" cy="210.6" r="1.8" fill="#c455ab" stroke="none"/><circle cx="659.8" cy="210.6" r="1.8" fill="#c455ab" stroke="none"/><circle cx="646.2" cy="202.4" r="1.8" fill="#69bf55" stroke="none"/><path d="M690.4 199.2h16.4v9h-8l-3.2 4.4.2-4.4h-5.4z" fill="#d7efcc" stroke="#7cc463"/><path d="M704.8 202.6h15.2v9.2h-5.2l.4 4.4-3.6-4.4h-6.8z" fill="#d7efcc" stroke="#7cc463"/><circle cx="695.4" cy="203.6" r=".8" fill="#7d5aa6" stroke="none"/><circle cx="698.6" cy="203.6" r=".8" fill="#7d5aa6" stroke="none"/><circle cx="701.8" cy="203.6" r=".8" fill="#7d5aa6" stroke="none"/><circle cx="709.2" cy="207.2" r=".8" fill="#7d5aa6" stroke="none"/><circle cx="712.4" cy="207.2" r=".8" fill="#7d5aa6" stroke="none"/><circle cx="715.6" cy="207.2" r=".8" fill="#7d5aa6" stroke="none"/><circle cx="693.6" cy="217.2" r="1.9" fill="#fff" stroke="#7d5aa6"/><path d="M689.9 224.4v-1.6q0-3 2.6-3.2h2.2q2.6.2 2.6 3.2v1.6" fill="#fff" stroke="#7d5aa6"/><circle cx="714.0" cy="217.2" r="1.9" fill="#fff" stroke="#7d5aa6"/><path d="M710.3 224.4v-1.6q0-3 2.6-3.2h2.2q2.6.2 2.6 3.2v1.6" fill="#fff" stroke="#7d5aa6"/><rect x="755.2" y="202.6" width="14.6" height="22" fill="#fff" stroke="#7d5aa6"/><rect x="756.6" y="201" width="11.8" height="1.8" fill="#fff" stroke="#7d5aa6" stroke-width=".5"/><rect x="747.3" y="207.4" width="8" height="17.2" fill="#fff" stroke="#7d5aa6"/><rect x="769.8" y="211.4" width="8" height="13.2" fill="#fff" stroke="#7d5aa6"/><rect x="757.6" y="205.0" width="2.2" height="2.4" stroke="#7cc463" stroke-width=".6"/><rect x="761.4" y="205.0" width="2.2" height="2.4" stroke="#7cc463" stroke-width=".6"/><rect x="765.2" y="205.0" width="2.2" height="2.4" stroke="#7cc463" stroke-width=".6"/><rect x="757.6" y="209.2" width="2.2" height="2.4" stroke="#7cc463" stroke-width=".6"/><rect x="761.4" y="209.2" width="2.2" height="2.4" stroke="#7cc463" stroke-width=".6"/><rect x="765.2" y="209.2" width="2.2" height="2.4" stroke="#7cc463" stroke-width=".6"/><rect x="757.6" y="213.4" width="2.2" height="2.4" stroke="#7cc463" stroke-width=".6"/><rect x="761.4" y="213.4" width="2.2" height="2.4" stroke="#7cc463" stroke-width=".6"/><rect x="765.2" y="213.4" width="2.2" height="2.4" stroke="#7cc463" stroke-width=".6"/><rect x="750" y="209.6" width="2.4" height="2.4" stroke="#7cc463" stroke-width=".6"/><rect x="750" y="214.2" width="2.4" height="2.4" stroke="#7cc463" stroke-width=".6"/><rect x="750" y="218.8" width="2.4" height="2.4" stroke="#7cc463" stroke-width=".6"/><rect x="772.6" y="214.0" width="2.4" height="2.4" stroke="#7cc463" stroke-width=".6"/><rect x="772.6" y="218.6" width="2.4" height="2.4" stroke="#7cc463" stroke-width=".6"/><rect x="760.8" y="218.4" width="3.4" height="6" fill="#7d5aa6" stroke="none"/></g>
</svg>
<div id="txt" style="left:0;top:0;width:800px;height:525px">
<span style="left:6.9px;top:5.8px;width:54.9px;height:17.0px;font-size:17.0px">2023</span>
<span style="left:64.4px;top:5.9px;width:16.2px;height:17.1px;font-size:17.1px">년</span>
<span style="left:89.3px;top:5.9px;width:151.7px;height:17.6px;font-size:17.6px">여성경제활동 통계</span>
<span style="left:10.2px;top:42.2px;width:197.3px;height:15.6px;font-size:15.6px">여성경제활동의 변화와 근로조건</span>
<span style="left:441.9px;top:133.0px;width:237.7px;height:15.8px;font-size:15.8px">여성의 경제활동 촉진을 위한 지원 확대</span>
<span style="left:149.7px;top:84.1px;width:59.1px;height:8.6px;font-size:8.6px">여성 고용률 증가</span>
<span style="left:332.0px;top:105.2px;width:20.5px;height:5.6px;font-size:5.6px">(단위: %)</span>
<span style="left:142.0px;top:234.5px;width:84.5px;height:8.7px;font-size:8.7px">고용률의 성별 격차 감소</span>
<span style="left:329.0px;top:255.0px;width:23.5px;height:6.0px;font-size:6.0px">(단위: %p)</span>
<span style="left:125.6px;top:389.9px;width:109.0px;height:8.8px;font-size:8.8px">연령별 여성 고용률 M자형 완화</span>
<span style="left:332.0px;top:411.0px;width:20.5px;height:5.6px;font-size:5.6px">(단위: %)</span>
<span style="left:26.0px;top:411.7px;width:19.0px;height:5.8px;font-size:5.8px">2013년</span>
<span style="left:69.3px;top:411.7px;width:19.0px;height:5.8px;font-size:5.8px">2023년</span>
<span style="left:16.4px;top:510.2px;width:21.2px;height:5.7px;font-size:5.7px">15~19세</span>
<span style="left:50.8px;top:510.2px;width:21.2px;height:5.7px;font-size:5.7px">20~24세</span>
<span style="left:85.2px;top:510.2px;width:21.2px;height:5.7px;font-size:5.7px">25~29세</span>
<span style="left:119.6px;top:510.2px;width:21.2px;height:5.7px;font-size:5.7px">30~34세</span>
<span style="left:154.0px;top:510.2px;width:21.2px;height:5.7px;font-size:5.7px">35~39세</span>
<span style="left:188.4px;top:510.2px;width:21.2px;height:5.7px;font-size:5.7px">40~44세</span>
<span style="left:222.8px;top:510.2px;width:21.2px;height:5.7px;font-size:5.7px">45~49세</span>
<span style="left:257.2px;top:510.2px;width:21.2px;height:5.7px;font-size:5.7px">50~54세</span>
<span style="left:291.6px;top:510.2px;width:21.2px;height:5.7px;font-size:5.7px">55~59세</span>
<span style="left:324.0px;top:510.2px;width:24.5px;height:5.7px;font-size:5.7px">60세 이상</span>
<span style="left:522.7px;top:12.2px;width:184.2px;height:8.7px;font-size:8.7px">시간당 남성임금 대비 여성임금 비율 지속적으로 증가</span>
<span style="left:769.0px;top:33.2px;width:20.0px;height:5.6px;font-size:5.6px">(단위: %)</span>
<span style="left:482.5px;top:174.3px;width:267.5px;height:9.4px;font-size:9.4px">새일센터, 경력단절 여성에서 모든 여성의 경제활동을 지원하는 사업으로 확대</span>
<span style="left:466.4px;top:235.9px;width:12.0px;height:6.6px;font-size:6.6px">연도</span>
<span style="left:517.9px;top:235.8px;width:25.0px;height:6.8px;font-size:6.8px">구직건수</span>
<span style="left:515.9px;top:257.1px;width:28.8px;height:7.4px;font-size:7.4px">209,530건</span>
<span style="left:515.1px;top:273.6px;width:30.5px;height:7.6px;font-size:7.6px">589,685건</span>
<span style="left:570.2px;top:231.6px;width:36.3px;height:6.8px;font-size:6.8px">직업교육훈련</span>
<span style="left:578.5px;top:240.0px;width:19.8px;height:6.8px;font-size:6.8px">과정 수</span>
<span style="left:580.5px;top:257.4px;width:15.8px;height:6.8px;font-size:6.8px">680개</span>
<span style="left:580.0px;top:273.9px;width:16.6px;height:7.1px;font-size:7.1px">715개</span>
<span style="left:628.1px;top:231.6px;width:36.5px;height:6.8px;font-size:6.8px">새일여성인턴</span>
<span style="left:637.4px;top:240.0px;width:17.9px;height:6.8px;font-size:6.8px">취업률</span>
<span style="left:679.2px;top:231.6px;width:50.3px;height:6.8px;font-size:6.8px">집단상담 프로그램</span>
<span style="left:691.4px;top:240.0px;width:26.0px;height:6.8px;font-size:6.8px">참여자 수</span>
<span style="left:691.8px;top:257.1px;width:25.2px;height:7.4px;font-size:7.4px">24,430명</span>
<span style="left:691.0px;top:273.6px;width:26.7px;height:7.6px;font-size:7.6px">26,950명</span>
<span style="left:738.1px;top:231.6px;width:48.5px;height:6.8px;font-size:6.8px">경력단절예방사업</span>
<span style="left:745.4px;top:240.0px;width:33.9px;height:6.8px;font-size:6.8px">운영 센터 수</span>
<span style="left:747.4px;top:257.4px;width:29.9px;height:6.8px;font-size:6.8px">사업시행전</span>
<span style="left:752.5px;top:273.9px;width:19.7px;height:7.1px;font-size:7.1px">80개소</span>
<span style="left:535.6px;top:304.2px;width:157.6px;height:8.7px;font-size:8.7px">새일센터 고숙련·고부가가치 훈련과정 수 증가</span>
<span style="left:768.7px;top:325.2px;width:20.3px;height:5.6px;font-size:5.6px">(단위: 개)</span>
<span style="left:572.9px;top:418.5px;width:84.1px;height:8.7px;font-size:8.7px">경력단절 여성 규모 감소</span>
<span style="left:762.4px;top:440.1px;width:26.6px;height:5.6px;font-size:5.6px">(단위: 천 명)</span>
</div>
</div></body></html>
